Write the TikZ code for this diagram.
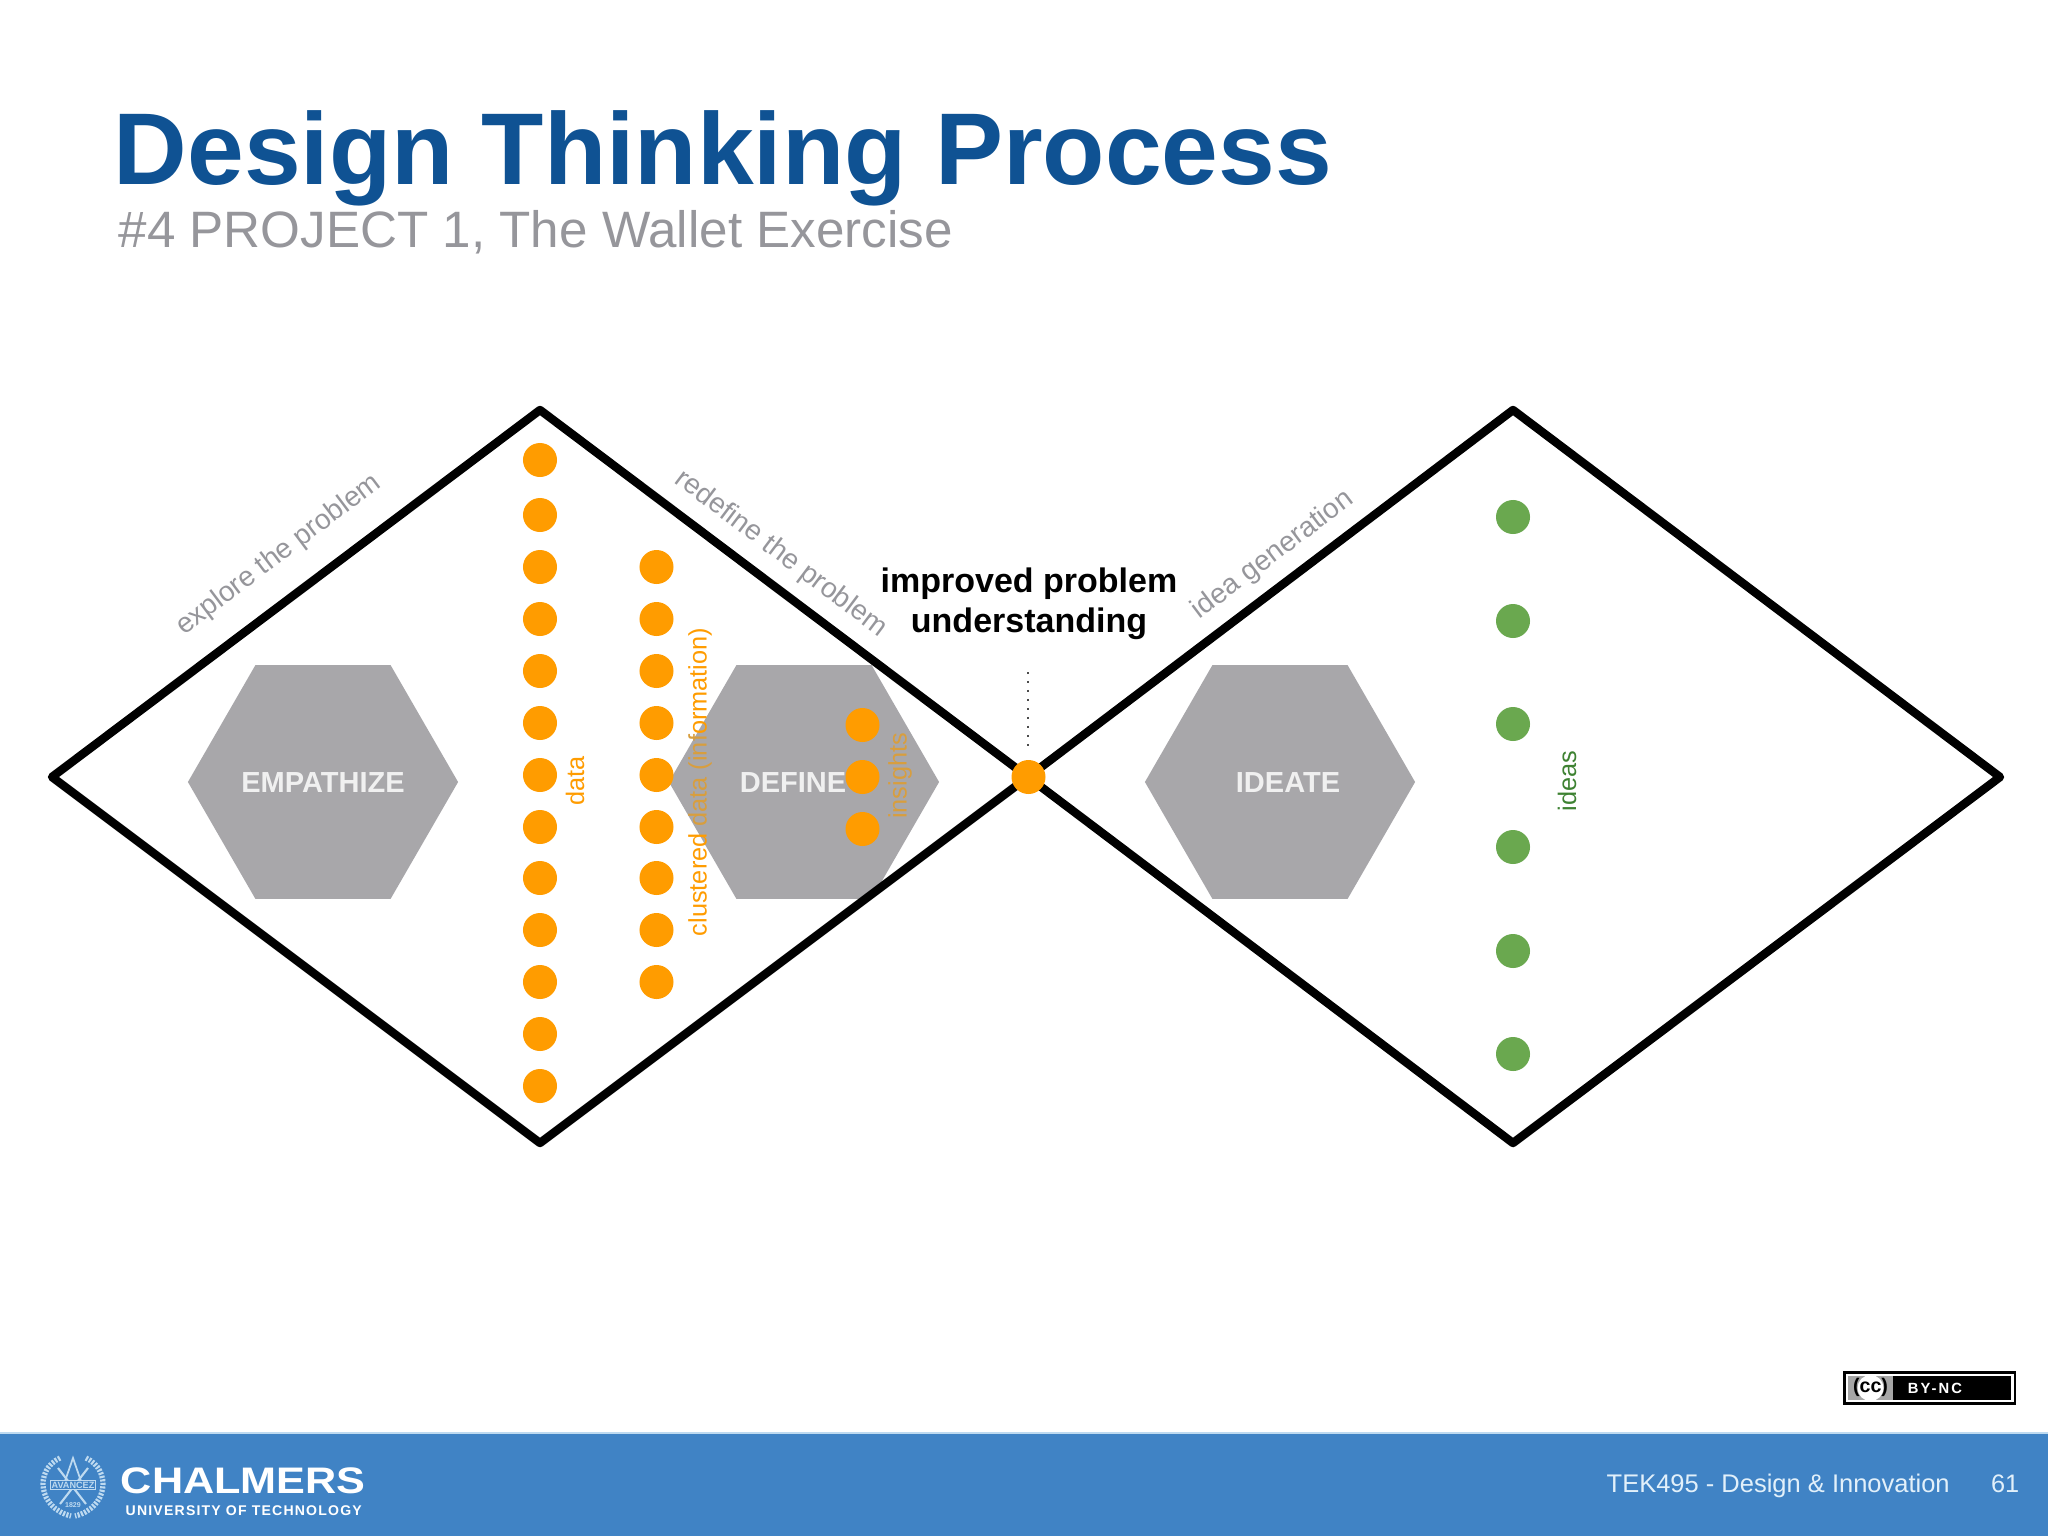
\documentclass[tikz,border=0pt]{standalone}
\usepackage{xcolor}
\usepackage{fontspec}
\setmainfont{Liberation Sans}
\usetikzlibrary{shapes.geometric}
\definecolor{scheme}{RGB}{255,156,0}
\definecolor{schememuted}{RGB}{216,158,62}
\definecolor{ideagreen}{RGB}{106,168,79}
\definecolor{ideatext}{RGB}{62,130,50}
\definecolor{hexgrey}{RGB}{168,167,170}
\definecolor{titleblue}{RGB}{15,82,147}
\definecolor{subgrey}{RGB}{150,150,155}
\definecolor{footblue}{RGB}{64,131,197}
\definecolor{footpale}{RGB}{226,240,250}
\definecolor{sealpale}{RGB}{190,218,240}
\tikzset{
	dotorange/.style={circle,fill=scheme,inner sep=0pt,minimum size=0.34cm},
	dotgreen/.style={circle,fill=ideagreen,inner sep=0pt,minimum size=0.34cm},
	hexbox/.style={regular polygon,regular polygon sides=6,fill=hexgrey,inner sep=0pt,minimum size=2.7cm},
	hextext/.style={text=black!6,font=\bfseries\fontsize{8.25}{10}\selectfont,inner sep=0pt},
	sidetext/.style={text=subgrey,font=\fontsize{8}{10}\selectfont,inner sep=0pt},
	uptext/.style={rotate=90,font=\fontsize{7.2}{9}\selectfont,inner sep=0pt},
	rimline/.style={color=black,line width=2.4pt,line join=round},
}
\begin{document}
\begin{tikzpicture}[x=0.01cm,y=-0.01cm]
	\useasboundingbox (0,0) rectangle (2048,1536);
	\fill[white] (0,0) rectangle (2048,1536);
	\coordinate (a1) at (52,777);
	\coordinate (a2) at (540,410);
	\coordinate (a3) at (1028,777);
	\coordinate (a4) at (540,1143);
	\coordinate (b1) at (1513,410);
	\coordinate (b2) at (2000,777);
	\coordinate (b3) at (1513,1143);
	\coordinate (dottop) at (1028,672);

	% title
	\node (title) at (113,184) [anchor=base west,inner sep=0pt,text=titleblue,font=\bfseries\fontsize{29}{32}\selectfont] {Design Thinking Process};
	\node (subtitle) at (118,247) [anchor=base west,inner sep=0pt,text=subgrey,font=\fontsize{14.55}{17}\selectfont] {\#4 PROJECT 1, The Wallet Exercise};

	\node (empathize) at (323,782) [hexbox] {};
	\node (define) at (804,782) [hexbox] {};
	\node (ideate) at (1280,782) [hexbox] {};

	\draw[rimline] (a1) to (a2) to (a3) to (a4) to cycle;
	\draw[rimline] (a3) to (b1) to (b2) to (b3) to cycle;
	\draw[color=black!70,line width=0.55pt,dash pattern=on 0.55pt off 2pt] (dottop) to (1028,752);

	\node (empathizetext) at (323,783) [hextext] {EMPATHIZE};
	\node (definetext) at (793,783) [hextext] {DEFINE};
	\node (ideatetext) at (1288,783) [hextext] {IDEATE};

	\node (explore) at (279,555) [sidetext,rotate=37] {explore the problem};
	\node (redefine) at (781,554) [sidetext,rotate=-37] {redefine the problem};
	\node (generation) at (1273,555) [sidetext,rotate=37] {idea generation};
	\node (improved) at (1029,604) [align=center,inner sep=0pt,font=\bfseries\fontsize{9.67}{11.3}\selectfont] {improved problem\\understanding};

	\node (datatext) at (575,781) [uptext,text=scheme] {data};
	\node (clustered) at (700,782) [uptext,text=scheme] {clustered {\color{schememuted}data (inf}ormation)};
	\node (insights) at (900,776) [uptext,text=schememuted] {insights};
	\node (ideastext) at (1567,781) [uptext,text=ideatext] {ideas};

	% data
	\node (d1) at (540,460) [dotorange] {};
	\node (d2) at (540,515) [dotorange] {};
	\node (d3) at (540,567) [dotorange] {};
	\node (d4) at (540,619) [dotorange] {};
	\node (d5) at (540,671) [dotorange] {};
	\node (d6) at (540,723) [dotorange] {};
	\node (d7) at (540,775) [dotorange] {};
	\node (d8) at (540,827) [dotorange] {};
	\node (d9) at (540,878) [dotorange] {};
	\node (d10) at (540,930) [dotorange] {};
	\node (d11) at (540,982) [dotorange] {};
	\node (d12) at (540,1034) [dotorange] {};
	\node (d13) at (540,1086) [dotorange] {};
	% clustered data
	\node (c1) at (656.5,567) [dotorange] {};
	\node (c2) at (656.5,619) [dotorange] {};
	\node (c3) at (656.5,671) [dotorange] {};
	\node (c4) at (656.5,723) [dotorange] {};
	\node (c5) at (656.5,775) [dotorange] {};
	\node (c6) at (656.5,827) [dotorange] {};
	\node (c7) at (656.5,878) [dotorange] {};
	\node (c8) at (656.5,930) [dotorange] {};
	\node (c9) at (656.5,982) [dotorange] {};
	% insights
	\node (i1) at (862.5,725) [dotorange] {};
	\node (i2) at (862.5,777) [dotorange] {};
	\node (i3) at (862.5,829) [dotorange] {};
	\node (centre) at (1028.5,777) [dotorange] {};
	% ideas
	\node (g1) at (1513,517) [dotgreen] {};
	\node (g2) at (1513,621) [dotgreen] {};
	\node (g3) at (1513,724) [dotgreen] {};
	\node (g4) at (1513,847) [dotgreen] {};
	\node (g5) at (1513,951) [dotgreen] {};
	\node (g6) at (1513,1054) [dotgreen] {};

	% licence badge
	\node (ccbox) at (1929.5,1388) [draw=black,line width=0.6pt,fill=white,inner sep=0pt,minimum width=1.7cm,minimum height=0.31cm] {};
	\node (ccblack) at (1952,1388) [fill=black,inner sep=0pt,minimum width=1.18cm,minimum height=0.24cm] {};
	\node (ccgrey) at (1870.5,1388) [fill=black!35,inner sep=0pt,minimum width=0.45cm,minimum height=0.24cm] {};
	\node (ccround) at (1870.5,1388) [circle,fill=white,inner sep=0pt,minimum size=0.26cm] {};
	\node (cclabel) at (1870.5,1387) [inner sep=0pt,font=\bfseries\fontsize{5.6}{6}\selectfont] {(cc)};
	\node (byncl) at (1935,1388) [inner sep=0pt,text=white,font=\bfseries\fontsize{4.2}{5}\selectfont\addfontfeature{LetterSpace=14}] {BY-NC};

	% footer
	\fill[footblue] (0,1433) rectangle (2048,1536);
	\draw[color=sealpale,line width=0.3pt] (0,1433) to (2048,1433);
	\draw[color=sealpale,line width=1.5pt,dash pattern=on 0.6pt off 0.4pt] (60,1458) .. controls (34,1470) and (38,1508) .. (71,1516);
	\draw[color=sealpale,line width=1.5pt,dash pattern=on 0.6pt off 0.4pt] (86,1458) .. controls (112,1470) and (108,1508) .. (75,1516);
	\draw[color=sealpale,line width=0.5pt] (73,1458) to (64,1484) to (82,1484) to cycle;
	\draw[color=sealpale,line width=0.6pt] (58,1468) to (86,1504);
	\draw[color=sealpale,line width=0.6pt] (88,1468) to (60,1504);
	\node (sealband) at (73,1485) [fill=footblue,draw=sealpale,line width=0.3pt,inner sep=0.4pt,text=sealpale,font=\bfseries\fontsize{2.6}{3}\selectfont] {AVANCEZ};
	\node (sealyear) at (73,1505) [inner sep=0pt,text=sealpale,font=\bfseries\fontsize{2}{3}\selectfont] {1829};
	\node (chalmers) at (120,1493) [anchor=base west,inner sep=0pt,xscale=1.17,text=white,font=\bfseries\fontsize{10.5}{12}\selectfont] {CHALMERS};
	\node (university) at (125,1515) [anchor=base west,inner sep=0pt,text=white,font=\bfseries\fontsize{4}{5}\selectfont\addfontfeature{LetterSpace=8.5}] {UNIVERSITY OF TECHNOLOGY};
	\node (course) at (1606,1492) [anchor=base west,inner sep=0pt,text=footpale,font=\fontsize{7.25}{9}\selectfont] {TEK495 - Design \& Innovation};
	\node (pagenum) at (2020,1492) [anchor=base east,inner sep=0pt,text=footpale,font=\fontsize{7.2}{9}\selectfont] {61};
\end{tikzpicture}
\end{document}
